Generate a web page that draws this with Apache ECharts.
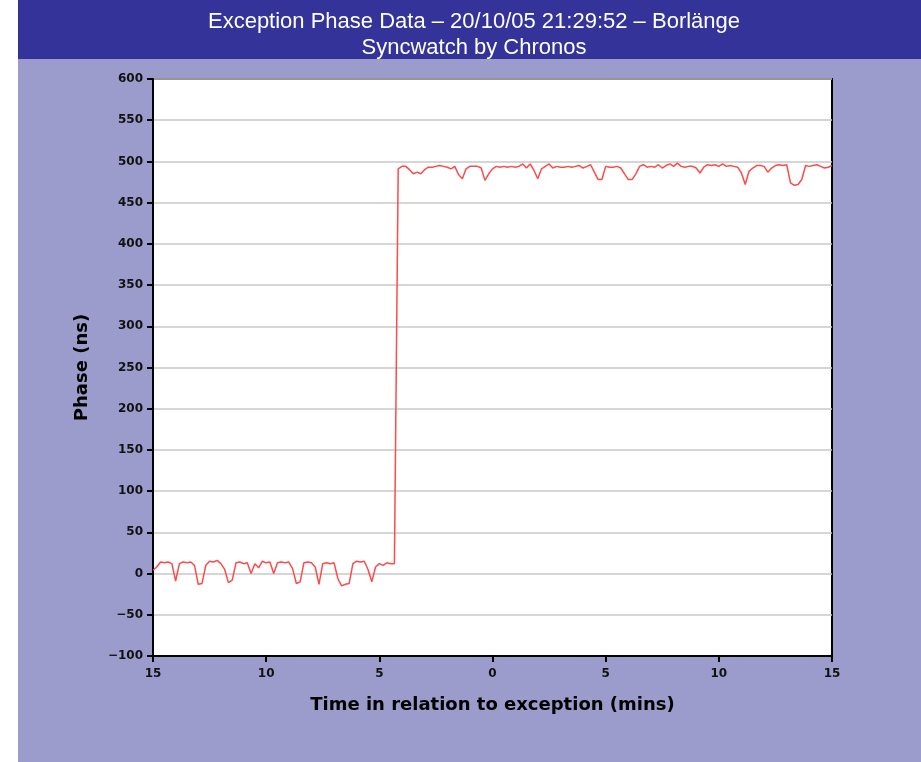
<!DOCTYPE html>
<html>
<head>
<meta charset="utf-8">
<script src="https://cdn.jsdelivr.net/npm/echarts@6/dist/echarts.min.js"></script>
<style>html,body{margin:0;padding:0;background:#fff}#c{width:921px;height:762px}</style>
</head>
<body>
<div id="c"></div>
<script>
// Time relative to exception, in seconds (one sample every 10 s)
var timesSec = [
-900,-890,-880,-870,-860,-850,-840,-830,-820,-810,-800,-790,-780,-770,-760,-750,-740,-730,-720,-710,
-700,-690,-680,-670,-660,-650,-640,-630,-620,-610,-600,-590,-580,-570,-560,-550,-540,-530,-520,-510,
-500,-490,-480,-470,-460,-450,-440,-430,-420,-410,-400,-390,-380,-370,-360,-350,-340,-330,-320,-310,
-300,-290,-280,-270,-260,-250,-240,-230,-220,-210,-200,-190,-180,-170,-160,-150,-140,-130,-120,-110,
-100,-90,-80,-70,-60,-50,-40,-30,-20,-10,0,10,20,30,40,50,60,70,80,90,
100,110,120,130,140,150,160,170,180,190,200,210,220,230,240,250,260,270,280,290,
300,310,320,330,340,350,360,370,380,390,400,410,420,430,440,450,460,470,480,490,
500,510,520,530,540,550,560,570,580,590,600,610,620,630,640,650,660,670,680,690,
700,710,720,730,740,750,760,770,780,790,800,810,820,830,840,850,860,870,880,890,900
];
// Phase in ns
var phaseNs = [
4,8,14,13,14,12,-9,12,14,13,14,10,-13,-12,10,15,14,16,12,5,
-11,-8,13,14,12,13,0,12,7,15,13,14,0,13,14,13,14,6,-12,-10,
13,14,13,8,-13,12,13,12,13,-6,-15,-13,-12,12,15,14,15,5,-10,8,
12,10,13,12,12,
491,494,494,490,485,487,485,490,493,493,494,495,494,493,491,494,484,479,491,494,
494,494,492,477,485,491,494,493,494,493,494,493,494,497,492,497,489,479,491,494,
497,492,494,493,493,494,493,494,495,492,494,496,487,478,478,494,493,493,494,492,
485,478,478,485,494,496,493,494,493,496,492,495,497,494,498,494,493,494,494,492,
486,493,496,495,496,494,497,494,495,494,493,486,472,488,492,495,495,494,487,492,
495,496,495,496,474,471,472,478,495,494,495,496,494,492,493,495
];
var titleLines = ['Exception Phase Data \u2013 20/10/05 21:29:52 \u2013 Borl\u00e4nge', 'Syncwatch by Chronos'];
var yAxisName = 'Phase (ns)';
var xAxisName = 'Time in relation to exception (mins)';

var seriesData = timesSec.map(function (t, i) { return [t / 60, phaseNs[i]]; });

var chart = echarts.init(document.getElementById('c'), null, {renderer: 'canvas'});
var labelFont = {fontFamily: 'DejaVu Sans', fontSize: 12, fontWeight: 'bold', color: '#111'};
var nameFont = {fontFamily: 'DejaVu Sans', fontSize: 18, fontWeight: 'bold', color: '#000'};
chart.setOption({
  animation: false,
  backgroundColor: '#ffffff',
  graphic: [
    {type: 'rect', left: 18, top: 0, shape: {width: 903, height: 762}, style: {fill: '#9c9ccc'}, z: -10, silent: true},
    {type: 'rect', left: 18, top: 0, shape: {width: 903, height: 59}, style: {fill: '#333399'}, z: -9, silent: true}
  ],
  title: {
    text: titleLines.join('\n'),
    left: 469, textAlign: 'center', top: 4,
    textStyle: {color: '#ffffff', fontFamily: 'Liberation Sans', fontSize: 22, fontWeight: 'normal', lineHeight: 26}
  },
  grid: {left: 153, top: 79, right: 89, bottom: 106, show: true, backgroundColor: '#ffffff', borderColor: '#000', borderWidth: 2},
  xAxis: {
    type: 'value', min: -15, max: 15, interval: 5,
    name: xAxisName, nameLocation: 'middle', nameGap: 40,
    nameTextStyle: nameFont,
    axisLine: {show: true, onZero: false, lineStyle: {color: '#000', width: 2}},
    axisTick: {show: true, inside: false, length: 6, lineStyle: {color: '#000', width: 2}},
    axisLabel: Object.assign({margin: 12, formatter: function (v) { return String(Math.abs(v)); }}, labelFont),
    splitLine: {show: false}
  },
  yAxis: {
    type: 'value', min: -100, max: 600, interval: 50,
    name: yAxisName, nameLocation: 'middle', nameGap: 62, nameRotate: 90,
    nameTextStyle: nameFont,
    axisLine: {show: true, onZero: false, lineStyle: {color: '#000', width: 2}},
    axisTick: {show: true, inside: false, length: 6, lineStyle: {color: '#000', width: 2}},
    axisLabel: Object.assign({margin: 10, formatter: function (v) { return String(v).replace('-', '\u2212'); }}, labelFont),
    splitLine: {show: true, lineStyle: {color: '#c8c8c8', width: 1.5}}
  },
  series: [{
    type: 'line', data: seriesData, symbol: 'none', smooth: false,
    lineStyle: {color: '#ff4a4a', width: 1.5}, z: 3
  }]
});
</script>
</body>
</html>
